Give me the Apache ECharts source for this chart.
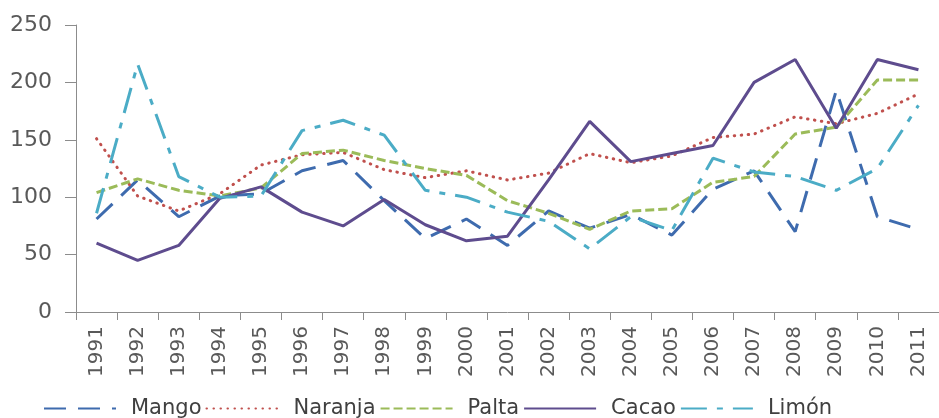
<!DOCTYPE html>
<html>
<head>
<meta charset="utf-8">
<script src="https://cdn.jsdelivr.net/npm/echarts@6/dist/echarts.min.js"></script>
<style>
html,body{margin:0;padding:0;background:#fff;}
#c{width:939px;height:418px;}
</style>
</head>
<body>
<div id="c"></div>
<script>
const years = ['1991','1992','1993','1994','1995','1996','1997','1998','1999','2000','2001','2002','2003','2004','2005','2006','2007','2008','2009','2010','2011'];
const yTicks = [0, 50, 100, 150, 200, 250];
const mango   = [81, 115, 83, 101, 103, 123, 132, 97, 64, 81, 58, 88, 73, 85, 67, 107, 123, 70, 193, 83, 72];
const naranja = [151, 101, 88, 103, 128, 137, 139, 124, 117, 123, 115, 121, 138, 130, 136, 152, 155, 170, 164, 173, 190];
const palta   = [104, 116, 106, 101, 108, 138, 141, 132, 125, 119, 97, 86, 72, 88, 90, 113, 118, 155, 161, 202, 202];
const cacao   = [60, 45, 58, 99, 109, 87, 75, 98, 76, 62, 66, 115, 166, 131, 138, 145, 200, 220, 160, 220, 211];
const limon   = [86, 216, 118, 100, 101, 158, 167, 154, 106, 100, 87, 79, 55, 83, 71, 134, 122, 118, 106, 125, 180];

const FONT = 'DejaVu Sans';
function mk(name, data, color, type, extra) {
  return {
    name: name, type: 'line', data: data, symbol: 'none', showSymbol: false,
    lineStyle: Object.assign({color: color, width: 3, type: type}, extra || {}),
    itemStyle: {color: color},
    emphasis: {disabled: true}, animation: false
  };
}
const chart = echarts.init(document.getElementById('c'), null, {renderer: 'canvas'});
chart.setOption({
  backgroundColor: '#ffffff',
  animation: false,
  grid: {left: 76, top: 25, width: 871, height: 287, containLabel: false},
  legend: {
    left: 38, top: 393, itemWidth: 72, itemHeight: 12, itemGap: 4,
    itemStyle: {opacity: 0},
    textStyle: {fontFamily: FONT, fontSize: 21, color: '#404040', padding: [0,0,0,10]},
    data: ['Mango','Naranja','Palta','Cacao','Limón']
  },
  xAxis: {
    type: 'category', data: years, boundaryGap: true,
    axisLine: {lineStyle: {color: '#8c8c8c', width: 1}},
    axisTick: {show: true, length: 8, lineStyle: {color: '#8c8c8c'}},
    axisLabel: {rotate: 90, margin: 14, fontFamily: FONT, fontSize: 20, color: '#595959', interval: 0},
    splitLine: {show: false}
  },
  yAxis: {
    type: 'value', min: yTicks[0], max: yTicks[yTicks.length-1], interval: 50,
    axisLine: {show: true, lineStyle: {color: '#8c8c8c', width: 1}},
    axisTick: {show: true, length: 11, lineStyle: {color: '#8c8c8c'}},
    axisLabel: {margin: 24, fontFamily: FONT, fontSize: 22, color: '#595959'},
    splitLine: {show: false}
  },
  series: [
    mk('Mango', mango, '#3E6BAE', [22, 12]),
    mk('Naranja', naranja, '#C0504D', [0.5, 6.5], {cap: 'round', width: 3}),
    mk('Palta', palta, '#9BBB59', [9, 4]),
    mk('Cacao', cacao, '#5E4C8E', 'solid'),
    mk('Limón', limon, '#4BACC6', [26, 10, 6, 10])
  ]
});
</script>
</body>
</html>
